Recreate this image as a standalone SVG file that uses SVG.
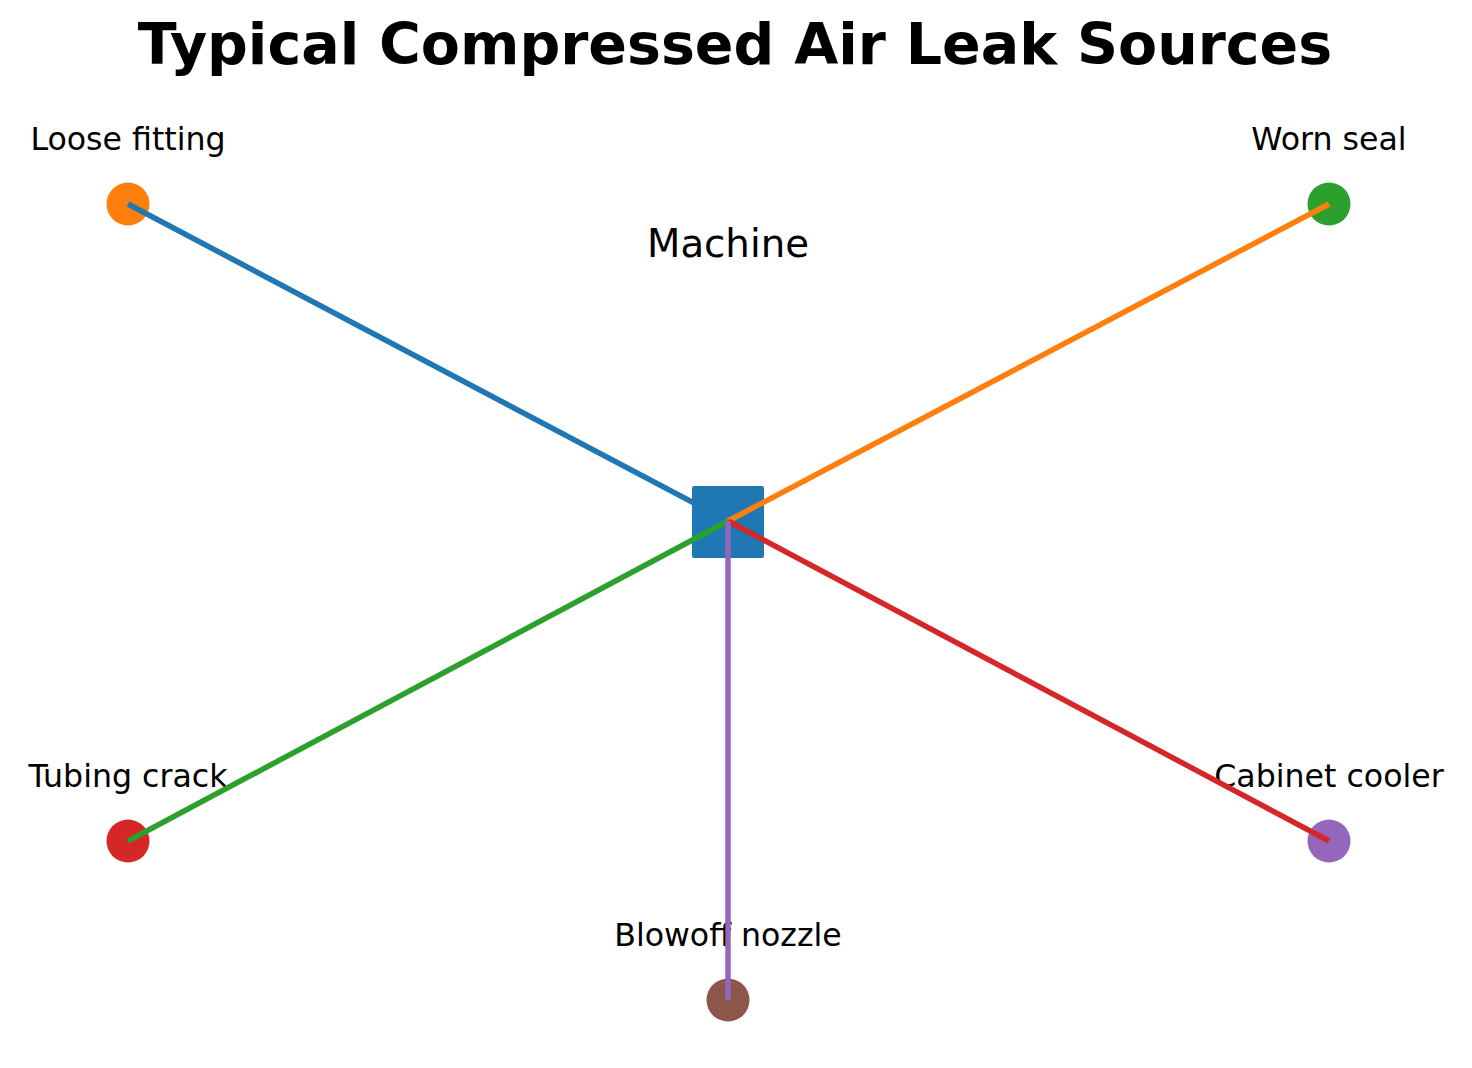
<svg xmlns="http://www.w3.org/2000/svg" width="1472" height="1068" viewBox="0 0 1472 1068">
<style>
text{font-family:"DejaVu Sans","Liberation Sans",sans-serif;fill:#000;text-anchor:middle}
.title{font-size:57px;font-weight:bold}
.lbl{font-size:31.6px}
.center{font-size:38.7px}
.edge{stroke-width:5.5;fill:none;stroke-linecap:butt}
</style>
<rect width="1472" height="1068" fill="#fff"/>
<text class="title" x="735" y="64">Typical Compressed Air Leak Sources</text>
<g id="machine">
<rect x="692" y="486" width="72" height="72" rx="2" fill="#1f77b4"/>
<text class="center" x="728" y="257">Machine</text>
</g>
<g id="loose-fitting">
<circle cx="128" cy="204" r="21.5" fill="#ff7f0e"/>
<text class="lbl" x="128" y="150">Loose fitting</text>
</g>
<g id="worn-seal">
<circle cx="1329" cy="204" r="21.5" fill="#2ca02c"/>
<text class="lbl" x="1329" y="150">Worn seal</text>
</g>
<g id="tubing-crack">
<circle cx="128" cy="841" r="21.5" fill="#d62728"/>
<text class="lbl" x="128" y="787">Tubing crack</text>
</g>
<g id="cabinet-cooler">
<circle cx="1329" cy="841" r="21.5" fill="#9467bd"/>
<text class="lbl" x="1329" y="787">Cabinet cooler</text>
</g>
<g id="blowoff-nozzle">
<circle cx="728" cy="1000" r="21.5" fill="#8c564b"/>
<text class="lbl" x="728" y="946">Blowoff nozzle</text>
</g>
<g id="connectors" class="edges">
<line class="edge" x1="728" y1="521" x2="128" y2="204" stroke="#1f77b4"/>
<line class="edge" x1="728" y1="521" x2="1329" y2="204" stroke="#ff7f0e"/>
<line class="edge" x1="728" y1="521" x2="128" y2="841" stroke="#2ca02c"/>
<line class="edge" x1="728" y1="521" x2="1329" y2="841" stroke="#d62728"/>
<line class="edge" x1="728" y1="521" x2="728" y2="1000" stroke="#9467bd"/>
</g>
</svg>
